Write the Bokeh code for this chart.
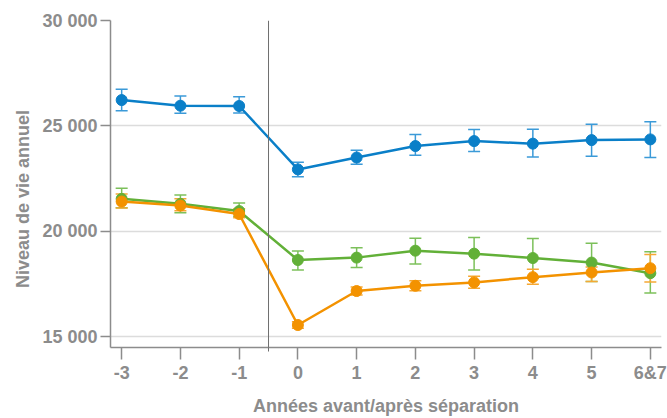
from bokeh.plotting import figure
from bokeh.models import ColumnDataSource, Whisker, Span, FixedTicker, Range1d
from bokeh.embed import file_html
from bokeh.resources import INLINE

# Years relative to separation
years = ["-3", "-2", "-1", "0", "1", "2", "3", "4", "5", "6&7"]

# Annual standard of living, with lower / upper bounds of the confidence interval
blue_mean = [26225, 25957, 25943, 22934, 23498, 24043, 24278, 24156, 24325, 24358]
blue_low = [25722, 25595, 25614, 22586, 23183, 23606, 23780, 23526, 23559, 23498]
blue_high = [26742, 26413, 26380, 23277, 23841, 24593, 24828, 24843, 25078, 25190]

green_mean = [21536, 21301, 20958, 18635, 18748, 19077, 18936, 18729, 18513, 18010]
green_low = [21113, 20878, 20704, 18165, 18278, 18447, 18165, 17775, 17619, 17070]
green_high = [22040, 21725, 21334, 19058, 19218, 19670, 19703, 19656, 19434, 19030]

orange_mean = [21409, 21221, 20817, 15551, 17163, 17413, 17573, 17822, 18043, 18245]
orange_low = [21099, 20972, 20643, 15391, 16975, 17178, 17290, 17479, 17619, 17587]
orange_high = [21772, 21536, 21066, 15706, 17351, 17648, 17869, 18198, 18306, 18902]

y_ticks = [15000, 20000, 25000, 30000]

GREY = "#8c8c8c"
FONT = "Liberation Sans"
NBSP = "\u00a0"

p = figure(
    width=667, height=418,
    output_backend="svg", toolbar_location=None,
    x_range=Range1d(-0.19, len(years) - 1 + 0.19),
    y_range=Range1d(14483, 30000),
    min_border_left=110, min_border_right=6,
    min_border_top=20, min_border_bottom=68,
)
p.outline_line_color = None
p.background_fill_color = "white"
p.border_fill_color = "white"

# Grid
p.xgrid.visible = False
p.ygrid.grid_line_color = "#dcdcdc"
p.ygrid.grid_line_width = 1.5

# Axes
p.xaxis.ticker = FixedTicker(ticks=list(range(len(years))), minor_ticks=[2.5])
p.xaxis.major_label_overrides = {i: s for i, s in enumerate(years)}
p.yaxis.ticker = FixedTicker(ticks=y_ticks)
p.yaxis.major_label_overrides = {v: f"{v:,}".replace(",", " ") for v in y_ticks}

for ax in (p.xaxis[0], p.yaxis[0]):
    ax.axis_line_color = GREY
    ax.axis_line_width = 1.5
    ax.major_tick_line_color = GREY
    ax.major_tick_line_width = 1.5
    ax.major_tick_in = 0
    ax.major_label_text_color = GREY
    ax.major_label_text_font = FONT
    ax.major_label_text_font_style = "bold"
    ax.major_label_text_font_size = "18px"
    ax.axis_label_text_color = GREY
    ax.axis_label_text_font = FONT
    ax.axis_label_text_font_style = "bold"
    ax.axis_label_text_font_size = "18px"

p.xaxis.major_tick_out = 12
p.xaxis.minor_tick_in = 0
p.xaxis.minor_tick_out = 4
p.xaxis.minor_tick_line_color = "#6e6e6e"
p.xaxis.major_label_standoff = 3
p.xaxis.axis_label = "Années avant/après séparation"
p.xaxis.axis_label_standoff = 10

p.yaxis.major_tick_out = 10
p.yaxis.minor_tick_out = 0
p.yaxis.minor_tick_in = 0
p.yaxis.major_label_standoff = 3
# trailing non-breaking spaces push the title a little lower along the axis
p.yaxis.axis_label = "Niveau de vie annuel" + NBSP * 6
p.yaxis.axis_label_standoff = 6

# Separation marker between year -1 and year 0
p.add_layout(Span(location=2.5, dimension="height", line_color="#6e6e6e", line_width=1))

x = list(range(len(years)))
series = [
    (blue_mean, blue_low, blue_high, "#0a7fc8", "#3b9ad8"),
    (green_mean, green_low, green_high, "#62b038", "#7cc05a"),
    (orange_mean, orange_low, orange_high, "#f39200", "#f5a834"),
]

for mean, low, high, color, err_color in series:
    src = ColumnDataSource(dict(x=x, y=mean, lo=low, hi=high))
    w = Whisker(source=src, base="x", lower="lo", upper="hi",
                line_color=err_color, line_width=1.5)
    w.upper_head.size = 12
    w.lower_head.size = 12
    w.upper_head.line_color = err_color
    w.lower_head.line_color = err_color
    w.upper_head.line_width = 1.5
    w.lower_head.line_width = 1.5
    p.add_layout(w)
    p.line("x", "y", source=src, line_color=color, line_width=2.5)
    p.scatter("x", "y", source=src, size=11, fill_color=color, line_color=color)

open("out.html", "w").write(file_html(p, INLINE))
